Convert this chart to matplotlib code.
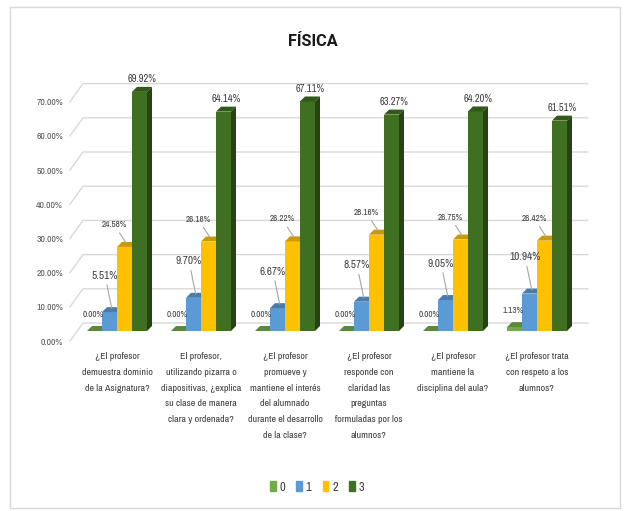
import numpy as np
import matplotlib
matplotlib.use("Agg")
import matplotlib.pyplot as plt
import matplotlib.font_manager as fm
from matplotlib.patches import Polygon, Rectangle, Patch
from matplotlib.colors import to_rgb
from matplotlib.transforms import ScaledTranslation

# datos
preguntas = [
    "¿El profesor\ndemuestra dominio\nde la Asignatura?",
    "El profesor,\nutilizando pizarra o\ndiapositivas, ¿explica\nsu clase de manera\nclara y ordenada?",
    "¿El profesor\npromueve y\nmantiene el interés\ndel alumnado\ndurante el desarrollo\nde la clase?",
    "¿El profesor\nresponde con\nclaridad las\npreguntas\nformuladas por los\nalumnos?",
    "¿El profesor\nmantiene la\ndisciplina del aula?",
    "¿El profesor trata\ncon respeto a los\nalumnos?",
]
series = ["0", "1", "2", "3"]
valores_0 = [0.00, 0.00, 0.00, 0.00, 0.00, 1.13]
valores_1 = [5.51, 9.70, 6.67, 8.57, 9.05, 10.94]
valores_2 = [24.58, 26.16, 26.22, 28.16, 26.75, 26.42]
valores_3 = [69.92, 64.14, 67.11, 63.27, 64.20, 61.51]
ticks_y = [0, 10, 20, 30, 40, 50, 60, 70]

colores = ["#70AD47", "#5B9BD5", "#FFC000", "#3F6F21"]

# buscar una fuente estrecha parecida a Calibri comprimida
nombres = {f.name for f in fm.fontManager.ttflist}
fuente, estiramiento = None, "normal"
for f in fm.fontManager.ttflist:
    if ("Narrow" in f.name or "Condensed" in f.name) and fuente is None:
        fuente = f.name
if fuente is None:
    for f in fm.fontManager.ttflist:
        if f.stretch in ("condensed", "semi-condensed", "extra-condensed") and f.name in (
                "DejaVu Sans", "Noto Sans", "Open Sans", "Roboto", "Liberation Sans"):
            fuente, estiramiento = f.name, f.stretch
            break
if fuente is None:
    fuente = "Liberation Sans" if "Liberation Sans" in nombres else "DejaVu Sans"
plt.rcParams["font.family"] = [fuente, "DejaVu Sans"]
plt.rcParams["font.stretch"] = estiramiento

# el titulo va en negrita: si la fuente estrecha no la tiene, usar otra
tiene_negrita = any(f.name == fuente and f.weight in (600, 700, 800, "bold", "semibold")
                    for f in fm.fontManager.ttflist)
fuente_titulo = fuente if tiene_negrita else ("Roboto" if "Roboto" in nombres else "DejaVu Sans")

W, H = 625, 511
fig = plt.figure(figsize=(W / 100, H / 100), dpi=100)
fig.patch.set_facecolor("white")
renderer = fig.canvas.get_renderer()


def ajustar(texto, objetivo_px, maximo, weight="normal", family=None):
    t = fig.text(0, 0, texto, fontsize=10, fontweight=weight, family=family)
    w = t.get_window_extent(renderer).width
    t.remove()
    return min(maximo, 10 * objetivo_px / w)


fs_cat = ajustar("diapositivas, ¿explica", 80, 8.8)
fs_y = ajustar("70.00%", 28, 7)
fs_tit = ajustar("FÍSICA", 50, 16, "bold", [fuente_titulo, "DejaVu Sans"])
fs_peq = ajustar("24.58%", 25, 7)
fs_med = ajustar("61.51%", 29, 8)
fs_gr = ajustar("5.51%", 26, 8.5)

# desplazamiento de etiquetas (px), linea guia y tamano
offsets = [(-4, 14, False, fs_peq), (-7, 34, True, fs_gr), (-13, 20, True, fs_peq), (0, 10, False, fs_med)]

fig.patches.append(Rectangle((10 / W, 3 / H), 610 / W, 501 / H, transform=fig.transFigure,
                             fill=False, edgecolor="#D9D9D9", lw=1))

px_x = 84.0      # pixeles por grupo
px_y = 3.42      # pixeles por punto porcentual
x_izq, x_der, y_base, y_top = 70, 592, 331, 71
ax = fig.add_axes([x_izq / W, (H - y_base) / H, (x_der - x_izq) / W, (y_base - y_top) / H])
xmin = -(117 - x_izq) / px_x
xmax = (x_der - 117) / px_x
ax.set_xlim(xmin, xmax)
ax.set_ylim(0, (y_base - y_top) / px_y)
for s in ax.spines.values():
    s.set_visible(False)

# lineas de cuadricula al fondo (efecto 3D)
gx = 13 / px_x
for t in ticks_y:
    yb = t + 8 / px_y
    ax.plot([xmin, xmin + gx, xmax - 0.05], [t - 10 / px_y, yb, yb], color="#D9D9D9",
            lw=1, clip_on=False, zorder=1)

x = np.arange(len(preguntas))
ancho = 15 / px_x
ddx, ddy = 5 / px_x, 5 / px_y
todas = [valores_0, valores_1, valores_2, valores_3]


def sombra(color, f):
    r, g, b = to_rgb(color)
    return (r * f, g * f, b * f)


for k, (vals, col) in enumerate(zip(todas, colores)):
    pos = x + (k - 1.5) * ancho
    z = 3 + k * 0.1
    ax.bar(pos, vals, width=ancho, color=col, zorder=z)
    for xc, h in zip(pos, vals):
        x0, x1 = xc - ancho / 2, xc + ancho / 2
        ax.add_patch(Polygon([(x1, 0), (x1 + ddx, ddy), (x1 + ddx, h + ddy), (x1, h)],
                             color=sombra(col, 0.6), zorder=z + 0.05, lw=0))
        ax.add_patch(Polygon([(x0, h), (x0 + ddx, h + ddy), (x1 + ddx, h + ddy), (x1, h)],
                             color=sombra(col, 0.8), zorder=z + 0.05, lw=0))
        dx, dy, guia, fs = offsets[k]
        props = dict(arrowstyle="-", color="#A6A6A6", lw=0.8, shrinkA=1, shrinkB=1) if guia else None
        ax.annotate(f"{h:.2f}%", xy=(xc + ddx / 2, h + ddy / 2), xytext=(dx * 0.72, dy * 0.72),
                    textcoords="offset points", ha="center", va="center", fontsize=fs,
                    color="#404040", arrowprops=props, zorder=10)

ax.set_xticks(x)
ax.set_xticklabels(preguntas, fontsize=fs_cat, color="#404040", linespacing=1.98, va="top")
ax.tick_params(axis="x", length=0, pad=15)
ax.set_yticks(ticks_y)
ax.set_yticklabels([f"{t:.2f}%" for t in ticks_y], fontsize=fs_y, color="#595959")
ax.tick_params(axis="y", length=0, pad=5)
for lab in ax.get_yticklabels():
    lab.set_transform(lab.get_transform() + ScaledTranslation(0, -10 / 100, fig.dpi_scale_trans))

fig.text(313 / W, 1 - 42 / H, "FÍSICA", ha="center", va="center", fontsize=fs_tit,
         fontweight="bold", color="#1A1A1A", family=[fuente_titulo, "DejaVu Sans"])

handles = [Patch(color=c) for c in colores]
fig.legend(handles, series, loc="center", bbox_to_anchor=(317 / W, 1 - 487 / H), ncol=4,
           frameon=False, fontsize=9, handlelength=0.45, handleheight=0.8, handletextpad=0.3,
           columnspacing=0.9, labelcolor="#404040")

fig.savefig("out.png", dpi=100, facecolor="white")
